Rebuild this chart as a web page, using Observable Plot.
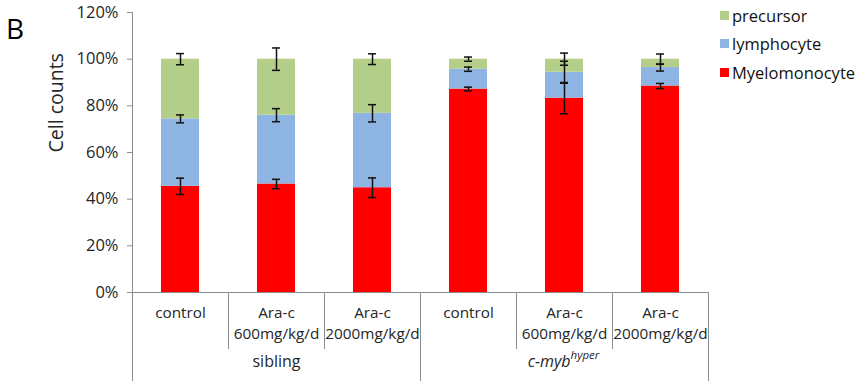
<!DOCTYPE html>
<html><head><meta charset="utf-8">
<script src="https://cdn.jsdelivr.net/npm/d3@7"></script>
<script src="https://cdn.jsdelivr.net/npm/@observablehq/plot@0.6"></script>
<style>
body{margin:0;background:#fff;}
#wrap{position:relative;width:859px;height:381px;font-family:"Open Sans",sans-serif;overflow:hidden;}
#panel{position:absolute;left:6px;top:12px;font-size:28px;color:#000;line-height:1.2;}
#legend{position:absolute;left:720px;top:1px;}
#legend .lg-swatch{height:28.5px;padding:0;margin:0;}
#legend .lg-swatch svg{margin-right:3px;}
</style></head><body>
<div id="wrap"><div id="chart"></div><div id="panel">B</div><div id="legend"></div></div>
<script>
// ---- data ----
const categories = ["control", "Ara-c\n600mg/kg/d", "Ara-c\n2000mg/kg/d", "control", "Ara-c\n600mg/kg/d", "Ara-c\n2000mg/kg/d"];
const groupLabels = ["sibling", "c-myb"];
const groupSuperscripts = ["", "hyper"];
const cellTypes = ["Myelomonocyte", "lymphocyte", "precursor"]; // stack order, bottom to top
const legendOrder = ["precursor", "lymphocyte", "Myelomonocyte"];
const myelomonocyte = [0.455, 0.465, 0.449, 0.872, 0.833, 0.885];
const lymphocyte    = [0.289, 0.295, 0.319, 0.085, 0.111, 0.079];
const precursor     = [0.256, 0.240, 0.232, 0.043, 0.056, 0.036];
const errMyelomonocyte = [0.035, 0.020, 0.042, 0.008, 0.067, 0.011];
const errLymphocyte    = [0.017, 0.028, 0.037, 0.009, 0.047, 0.015];
const errPrecursor     = [0.024, 0.048, 0.023, 0.009, 0.026, 0.022];
const yTicks = [0, 0.2, 0.4, 0.6, 0.8, 1.0, 1.2];
const legendColors = ["#B3CE88", "#8EB4E3", "#FF0000"];

// ---- derived tables ----
const values = {Myelomonocyte: myelomonocyte, lymphocyte: lymphocyte, precursor: precursor};
const errors = {Myelomonocyte: errMyelomonocyte, lymphocyte: errLymphocyte, precursor: errPrecursor};
const rows = [];
const errRows = [];
const capRows = [];
categories.forEach((c, i) => {
  let base = 0;
  for (const t of cellTypes) {
    const v = values[t][i];
    const top = base + v;
    rows.push({i, type: t, y1: base, y2: top});
    const e = errors[t][i];
    errRows.push({xc: i + 0.5, lo: top - e, hi: top + e});
    capRows.push({xc: i + 0.5, v: top - e});
    capRows.push({xc: i + 0.5, v: top + e});
    base = top;
  }
});
const innerBounds = [1, 2, 4, 5];
const outerBounds = [0, 3, 6];
const axisGray = "#8c8c8c";
const textColor = "#262626";

const chart = Plot.plot({
  width: 859, height: 381,
  marginLeft: 132, marginRight: 151, marginTop: 12, marginBottom: 89,
  style: {fontFamily: "'Open Sans', sans-serif", fontSize: "16px", color: textColor, background: "white", overflow: "visible"},
  x: {domain: [0, categories.length], axis: null},
  y: {domain: [0, 1.2], axis: null},
  color: {domain: legendOrder, range: legendColors},
  marks: [
    Plot.rect(rows, {x1: "i", x2: d => d.i + 1, y1: "y1", y2: "y2", fill: "type", insetLeft: 29, insetRight: 29}),
    Plot.ruleX(errRows, {x: "xc", y1: "lo", y2: "hi", stroke: "#111", strokeWidth: 1.5}),
    Plot.ruleY(capRows, {x1: "xc", x2: "xc", y: "v", insetLeft: -4, insetRight: -4, stroke: "#111", strokeWidth: 1.5}),
    Plot.axisY({ticks: yTicks, tickFormat: d3.format(".0%"), tickSize: 5, tickPadding: 9, stroke: axisGray, label: null, fontSize: 16.5, fill: textColor}),
    Plot.ruleX([0], {y1: 0, y2: 1.2, stroke: axisGray}),
    Plot.ruleY([0], {stroke: axisGray}),
    Plot.ruleX(innerBounds, {y1: 0, y2: 0, insetBottom: -57, stroke: axisGray}),
    Plot.ruleX(outerBounds, {y1: 0, y2: 0, insetBottom: -89, stroke: axisGray}),
    Plot.text(categories, {x: (d, i) => i + 0.5, y: 0, text: d => d, lineAnchor: "top", dy: 10.5, lineHeight: 1.36, fontSize: 15.3, fill: textColor}),
    Plot.text(groupLabels.filter((d, i) => !groupSuperscripts[i]), {x: 1.5, y: 0, text: d => d, dy: 69, fontSize: 16, fill: textColor}),
    Plot.text(groupLabels.filter((d, i) => groupSuperscripts[i]), {x: 4.5, y: 0, text: d => d, dy: 69, dx: 6, textAnchor: "end", fontStyle: "italic", fontSize: 16, fill: textColor}),
    Plot.text(groupSuperscripts.filter(d => d), {x: 4.5, y: 0, text: d => d, dy: 63, dx: 6, textAnchor: "start", fontStyle: "italic", fontSize: 11.5, fill: textColor}),
    Plot.text(["Cell counts"], {frameAnchor: "left", text: d => d, rotate: -90, dx: -76, fontSize: 19.5, fill: textColor})
  ]
});
document.getElementById("chart").append(chart);

const legend = Plot.legend({
  color: {domain: legendOrder, range: legendColors},
  legend: "swatches", columns: 1, swatchSize: 9, className: "lg",
  style: {fontSize: "16.5px", fontFamily: "'Open Sans', sans-serif", color: "#111", marginBottom: "0", minHeight: "0"}
});
document.getElementById("legend").append(legend);
</script>
</body></html>
